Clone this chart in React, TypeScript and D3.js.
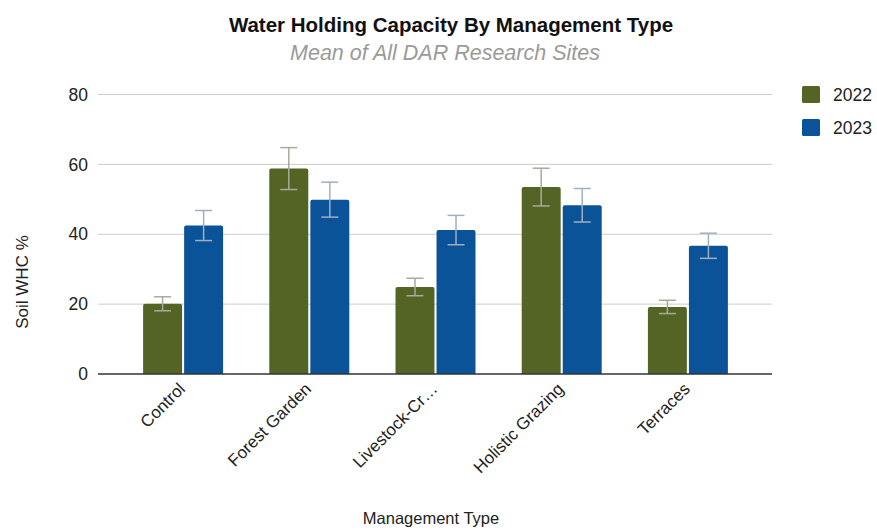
import React from "react";
import * as d3 from "d3";

const categories = ["Control", "Forest Garden", "Livestock-Cr…", "Holistic Grazing", "Terraces"];
const seriesNames = ["2022", "2023"];
const values2022 = [20.1, 58.8, 24.9, 53.5, 19.2];
const values2023 = [42.5, 49.9, 41.2, 48.3, 36.7];
const err2022 = [2.0, 6.0, 2.5, 5.4, 1.9];
const err2023 = [4.3, 5.0, 4.2, 4.8, 3.6];
const yTicks = [0, 20, 40, 60, 80];
const colors = ["#536424", "#0b5399"];

const W = 877;
const H = 531;
const FONT = "Liberation Sans, Arial, Helvetica, sans-serif";

export default function App() {
  const y = d3.scaleLinear().domain([0, 80]).range([374, 94.5]);
  const x = d3.scaleBand().domain(categories).range([120, 751]).paddingInner(0).paddingOuter(0);
  const groupW = 80;
  const inner = d3.scaleBand().domain(seriesNames).range([0, groupW]).paddingInner(0.05);
  const series = [
    { name: "2022", vals: values2022, errs: err2022, color: colors[0] },
    { name: "2023", vals: values2023, errs: err2023, color: colors[1] },
  ];
  const gridX0 = 98;
  const gridX1 = 772;
  const capW = 17;

  return (
    <svg width={W} height={H} style={{ position: "absolute", left: 0, top: 0, background: "#fff" }} fontFamily={FONT}>
      <rect x={0} y={0} width={W} height={H} fill="#fff" />
      <text x={451} y={32} textAnchor="middle" fontSize={20.5} fontWeight="bold" fill="#111">
        Water Holding Capacity By Management Type
      </text>
      <text x={445} y={60} textAnchor="middle" fontSize={21.5} fontStyle="italic" fill="#9a9a9a">
        Mean of All DAR Research Sites
      </text>
      {yTicks.map((t) => (
        <g key={t}>
          {t !== 0 && (
            <line x1={gridX0} x2={gridX1} y1={y(t)} y2={y(t)} stroke="#cccccc" strokeWidth={1} />
          )}
          <text x={88} y={y(t)} dy="0.35em" textAnchor="end" fontSize={17.5} fill="#222">
            {t}
          </text>
        </g>
      ))}
      {series.map((s, si) =>
        categories.map((c, i) => {
          const bx = (x(c) as number) + x.bandwidth() / 2 - groupW / 2 + (inner(s.name) as number);
          const bw = inner.bandwidth();
          const top = y(s.vals[i]);
          const cx = bx + bw / 2;
          const e1 = y(s.vals[i] + s.errs[i]);
          const e0 = y(s.vals[i] - s.errs[i]);
          return (
            <g key={s.name + c}>
              <path
                d={`M${bx},${y(0)} V${top + 2} Q${bx},${top} ${bx + 2},${top} H${bx + bw - 2} Q${bx + bw},${top} ${bx + bw},${top + 2} V${y(0)} Z`}
                fill={s.color}
              />
              <g stroke={si === 0 ? "#a8aa9c" : "#a0afbf"} strokeWidth={1.5}>
                <line x1={cx} x2={cx} y1={e1} y2={e0} />
                <line x1={cx - capW / 2} x2={cx + capW / 2} y1={e1} y2={e1} />
                <line x1={cx - capW / 2} x2={cx + capW / 2} y1={e0} y2={e0} />
              </g>
            </g>
          );
        })
      )}
      <line x1={gridX0} x2={gridX1} y1={y(0)} y2={y(0)} stroke="#333" strokeWidth={1.5} />
      {categories.map((c) => {
        const cx = (x(c) as number) + x.bandwidth() / 2;
        return (
          <text
            key={c}
            transform={`translate(${cx + 3},${390}) rotate(-45)`}
            textAnchor="end"
            fontSize={17}
            fill="#222"
          >
            {c}
          </text>
        );
      })}
      <text x={431} y={524} textAnchor="middle" fontSize={16.5} fill="#222">
        Management Type
      </text>
      <text transform={`translate(28,282) rotate(-90)`} textAnchor="middle" fontSize={17} fill="#222">
        Soil WHC %
      </text>
      {series.map((s, i) => (
        <g key={s.name} transform={`translate(802,${86 + i * 33})`}>
          <rect x={0} y={0} width={18} height={17} rx={1.5} fill={s.color} />
          <text x={31} y={8.5} dy="0.35em" fontSize={17.5} fill="#222">
            {s.name}
          </text>
        </g>
      ))}
    </svg>
  );
}
